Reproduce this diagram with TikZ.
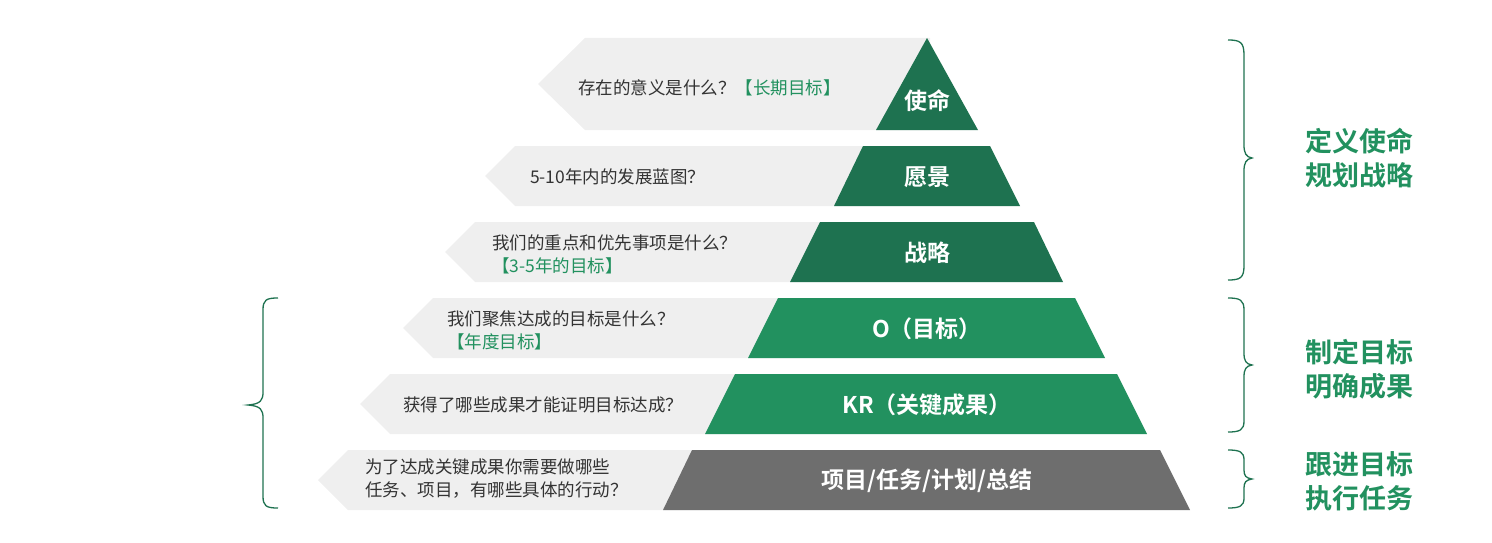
\documentclass[tikz,border=0pt]{standalone}
\usepackage{fontspec}
\setmainfont{Noto Sans CJK SC}
\newfontfamily\cjkb{Noto Sans CJK SC Bold}
\definecolor{dg}{HTML}{1E7250}
\definecolor{mg}{HTML}{22915F}
\definecolor{gy}{HTML}{6E6E6E}
\definecolor{lg}{HTML}{EFEFEF}
\definecolor{tg}{HTML}{333333}
\begin{document}
\begin{tikzpicture}[x=1pt,y=-1pt,
  q/.style={anchor=west,font=\fontsize{17.5}{23}\selectfont,text=tg,align=left,inner sep=0},
  lab/.style={font=\cjkb\fontsize{23}{26}\selectfont,text=white,inner sep=0},
  rl/.style={font=\cjkb\fontsize{27}{34}\selectfont,text=mg,align=center,inner sep=0},
  br/.style={draw=dg,line width=1.3pt}]
\useasboundingbox (0,0) rectangle (1492,543);
% grey arrows
\fill[lg] (930,38)--(585,38)--(538,84)--(585,130)--(930,130)--cycle;
\fill[lg] (900,146)--(515,146)--(485,176)--(515,206)--(900,206)--cycle;
\fill[lg] (850,222)--(475,222)--(445,252)--(475,282)--(850,282)--cycle;
\fill[lg] (800,298)--(433,298)--(403,328)--(433,358)--(800,358)--cycle;
\fill[lg] (760,374)--(390,374)--(360,404)--(390,434)--(760,434)--cycle;
\fill[lg] (720,450)--(348,450)--(318,480)--(348,510)--(720,510)--cycle;
% pyramid
\fill[dg] (927,38)--(978,130)--(876,130)--cycle;
\fill[dg] (863,146)--(990,146)--(1020,206)--(834,206)--cycle;
\fill[dg] (820,222)--(1034,222)--(1063,282)--(790,282)--cycle;
\fill[mg] (778,298)--(1075,298)--(1105,358)--(748,358)--cycle;
\fill[mg] (735,374)--(1117,374)--(1147,434)--(705,434)--cycle;
\fill[gy] (692,450)--(1160,450)--(1190,510)--(663,510)--cycle;
% labels
\node[lab] (l1) at (927,101) {使命};
\node[lab] (l2) at (927,177) {愿景};
\node[lab] (l3) at (927,253) {战略};
\node[lab] (l4) at (927,329) {O（目标）};
\node[lab] (l5) at (927,405) {KR（关键成果）};
\node[lab] (l6) at (927,481) {项目/任务/计划/总结};
% questions
\node[q] (q1) at (578,88) {存在的意义是什么？\textcolor{mg}{【长期目标】}};
\node[q] (q2) at (530,177) {5-10年内的发展蓝图？};
\node[q] (q3) at (492,254) {我们的重点和优先事项是什么？\\\textcolor{mg}{【3-5年的目标】}};
\node[q] (q4) at (447,330) {我们聚焦达成的目标是什么？\\\textcolor{mg}{【年度目标】}};
\node[q] (q5) at (403,405) {获得了哪些成果才能证明目标达成？};
\node[q] (q6) at (365,479) {为了达成关键成果你需要做哪些\\任务、项目，有哪些具体的行动？};
% right braces
\draw[br] (1228,40) .. controls (1240,40) and (1244,42) .. (1244,55) -- (1244,145) .. controls (1244,153) and (1246,157) .. (1252,158) .. controls (1246,159) and (1244,163) .. (1244,171) -- (1244,266) .. controls (1244,278) and (1240,280) .. (1228,280);
\draw[br] (1228,298) .. controls (1240,298) and (1244,300) .. (1244,310) -- (1244,353) .. controls (1244,361) and (1246,364) .. (1252,365) .. controls (1246,366) and (1244,369) .. (1244,377) -- (1244,421) .. controls (1244,430) and (1240,432) .. (1228,432);
\draw[br] (1228,450) .. controls (1240,450) and (1244,452) .. (1244,460) -- (1244,470) .. controls (1244,476) and (1246,478) .. (1252,479) .. controls (1246,480) and (1244,482) .. (1244,488) -- (1244,498) .. controls (1244,506) and (1240,508) .. (1228,508);
% left brace
\draw[br] (278,298) .. controls (266,298) and (263,300) .. (263,310) -- (263,392) .. controls (263,400) and (261,404) .. (248,405) .. controls (261,406) and (263,410) .. (263,418) -- (263,496) .. controls (263,506) and (266,508) .. (278,508);
% right labels
\node[rl] (r1) at (1359,158) {定义使命\\规划战略};
\node[rl] (r2) at (1359,369) {制定目标\\明确成果};
\node[rl] (r3) at (1359,481) {跟进目标\\执行任务};
\end{tikzpicture}
\end{document}
